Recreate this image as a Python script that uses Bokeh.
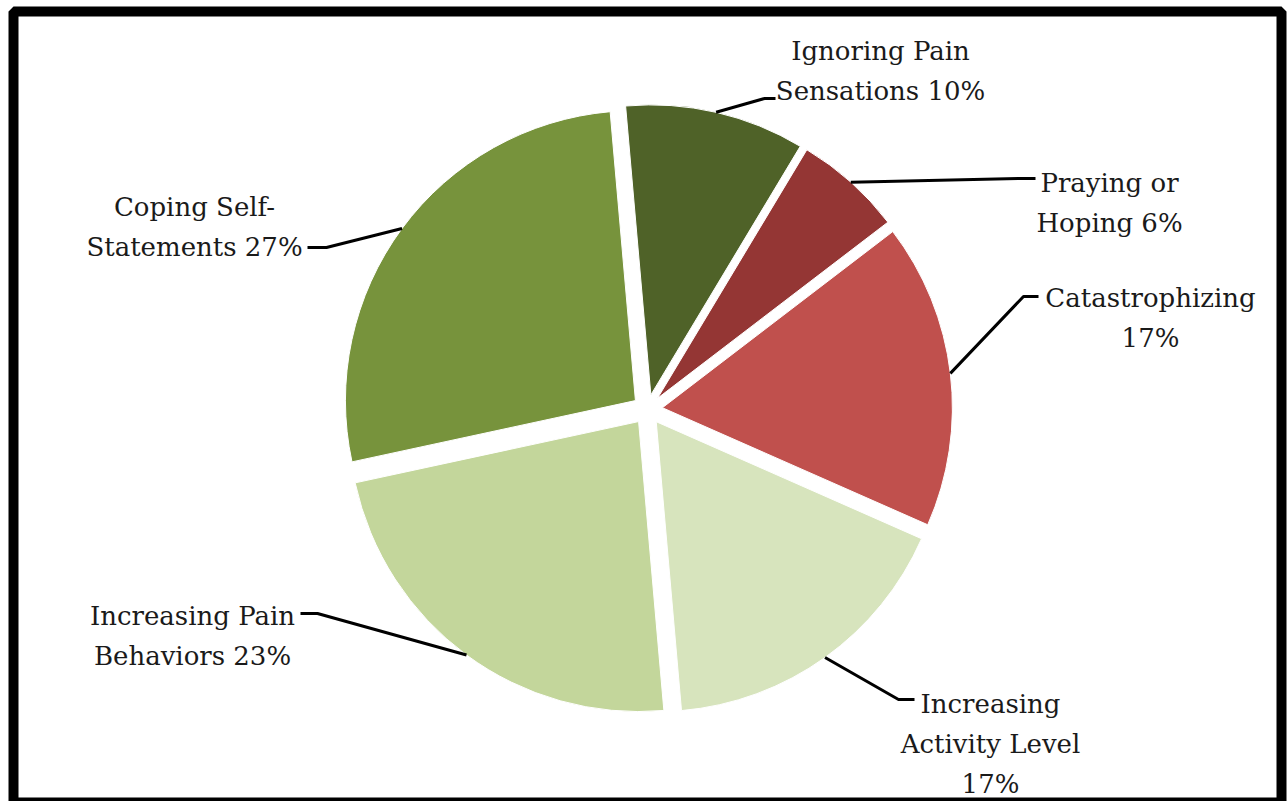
import math
from bokeh.plotting import figure
from bokeh.models import Range1d, ColumnDataSource
from bokeh.core.properties import value
from bokeh.embed import file_html
from bokeh.resources import INLINE

# ---- data ----
categories = ["Ignoring Pain Sensations", "Praying or Hoping", "Catastrophizing",
              "Increasing Activity Level", "Increasing Pain Behaviors", "Coping Self-Statements"]
percent = [10, 6, 17, 17, 23, 27]
label_lines = [["Ignoring Pain", "Sensations 10%"],
               ["Praying or", "Hoping 6%"],
               ["Catastrophizing", "17%"],
               ["Increasing", "Activity Level", "17%"],
               ["Increasing Pain", "Behaviors 23%"],
               ["Coping Self-", "Statements 27%"]]
colors = ["#4F6228", "#943634", "#C0504D", "#D7E4BD", "#C3D69B", "#77933C"]

# ---- layout (screen pixels, y measured from top) ----
W, H = 1288, 801
CX, CY = 647, 409
R = 290
EXPLODE = 15
FIRST_ANGLE = -5.0  # degrees clockwise from 12 o'clock
label_pos = [(880, 50), (1109, 182), (1150, 297), (990, 703), (192, 615), (194, 206)]
LINE_GAP = 40
leader_elbow = [(764, 98, 775), (1020, 178, 1035), (1023, 296, 1038),
                (898, 699, 914), (317, 613, 300), (326, 247, 307)]
FONT = "DejaVu Serif"
FONT_SIZE = "26px"


def sy(y):
    return H - y


p = figure(width=W, height=H, x_range=Range1d(0, W), y_range=Range1d(0, H),
           output_backend="svg", toolbar_location=None, min_border=0,
           background_fill_color="white", border_fill_color="white")
p.axis.visible = False
p.grid.visible = False
p.outline_line_color = None

total = float(sum(percent))
xs, ys, starts, ends = [], [], [], []
lead_x, lead_y = [], []
cum = FIRST_ANGLE
for i, v in enumerate(percent):
    a1 = cum
    a2 = cum + 360.0 * v / total
    cum = a2
    bis = math.radians((a1 + a2) / 2.0)
    dx, dy = math.sin(bis), math.cos(bis)
    cx = CX + EXPLODE * dx
    cy = sy(CY) + EXPLODE * dy
    xs.append(cx)
    ys.append(cy)
    starts.append(math.radians(90 - a2))
    ends.append(math.radians(90 - a1))
    ax = CX + (EXPLODE + R) * dx
    ay = sy(CY) + (EXPLODE + R) * dy
    ex, ey, endx = leader_elbow[i]
    lead_x.append([ax, ex, endx])
    lead_y.append([ay, sy(ey), sy(ey)])

src = ColumnDataSource(dict(x=xs, y=ys, start=starts, end=ends, color=colors, name=categories))
p.wedge(x="x", y="y", radius=R, start_angle="start", end_angle="end",
        fill_color="color", line_color="white", line_width=1, source=src)

p.multi_line(xs=lead_x, ys=lead_y, line_color="black", line_width=3)

tx, ty, tt = [], [], []
for i, lines in enumerate(label_lines):
    lx, ly = label_pos[i]
    for j, t in enumerate(lines):
        tx.append(lx)
        ty.append(sy(ly + j * LINE_GAP))
        tt.append(t)
p.text(x=tx, y=ty, text=tt, text_font=value(FONT), text_font_size=FONT_SIZE,
       text_align="center", text_baseline="alphabetic", text_color="#1a1a1a")

# black frame
p.rect(x=[(13 + 1281) / 2], y=[sy((11 + 802) / 2)], width=[1281 - 13], height=[802 - 11],
       fill_color=None, line_color="black", line_width=10)

open("out.html", "w").write(file_html(p, INLINE))
